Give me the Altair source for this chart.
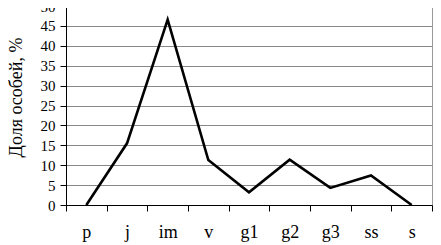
import altair as alt
import pandas as pd

categories = ["p", "j", "im", "v", "g1", "g2", "g3", "ss", "s"]
values = [0, 15.5, 46.6, 11.3, 3.2, 11.4, 4.3, 7.4, 0]

df = pd.DataFrame({"stage": categories, "share": values})

font = "Liberation Serif"

chart = alt.Chart(df).mark_line(color="black", strokeWidth=2.6, strokeJoin="miter").encode(
    x=alt.X("stage:N", sort=categories, bandPosition=0.5,
            scale=alt.Scale(type="band", paddingInner=0, paddingOuter=0),
            axis=alt.Axis(title=None, labelAngle=0, tickBand="extent", grid=False,
                          tickSize=6, labelPadding=12, labelFontSize=18)),
    y=alt.Y("share:Q", scale=alt.Scale(domain=[0, 50], nice=False),
            axis=alt.Axis(title="Доля особей, %", values=list(range(0, 51, 5)),
                          grid=True, gridColor="#888888", gridWidth=1,
                          tickSize=6, labelPadding=5, labelFontSize=15,
                          titleFontSize=18, titleFontWeight="normal",
                          titleX=-50, titleY=91, titleBaseline="middle")),
).properties(
    width=366, height=199,
    autosize=alt.AutoSizeParams(type="none"),
    padding={"left": 58, "top": -2, "right": 1, "bottom": 40},
    background="white",
).configure_view(
    stroke="#999999", strokeWidth=1
).configure_axis(
    labelFont=font, titleFont=font, labelColor="black", titleColor="black",
    domainColor="black", tickColor="black"
)

chart.save("out.html", embed_options={"renderer": "svg", "actions": False})
